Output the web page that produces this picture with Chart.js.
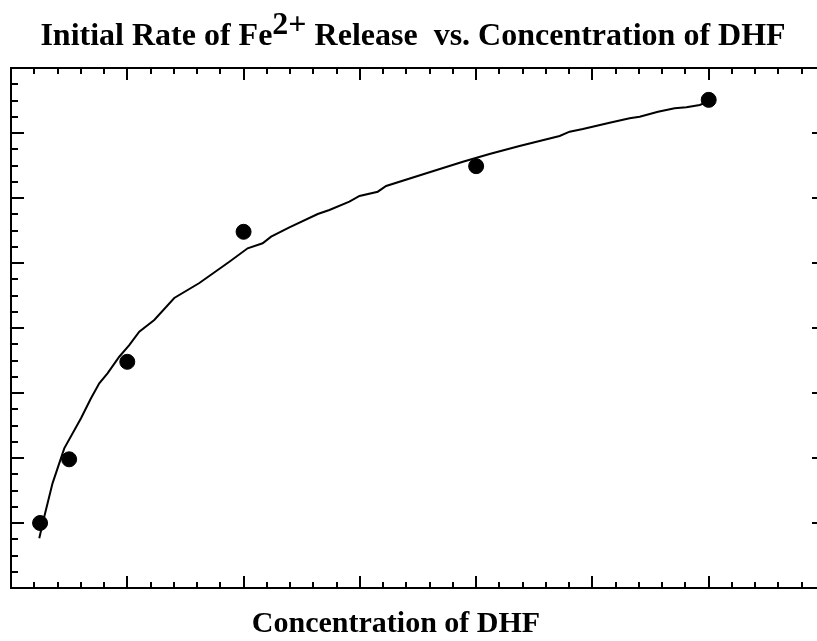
<!DOCTYPE html>
<html>
<head>
<meta charset="utf-8">
<script src="https://cdn.jsdelivr.net/npm/chart.js@4.4.1/dist/chart.umd.min.js"></script>
<style>
  html, body { margin: 0; padding: 0; background: #fff; }
  #wrap { width: 817px; height: 641px; overflow: hidden; position: relative; }
  canvas { display: block; }
</style>
</head>
<body>
<div id="wrap"><canvas id="chart" width="830" height="641"></canvas></div>
<script>
// measured points
const concentration = [0.25, 0.5, 1, 2, 4, 6];
const initialRate = [1.0, 1.98, 3.48, 5.48, 6.49, 7.51];

// fitted curve
const fitX = [0.243, 0.286, 0.357, 0.458, 0.602, 0.688, 0.759, 0.83, 0.931, 1.017, 1.103, 1.232, 1.404, 1.62, 1.878, 2.035, 2.164, 2.237, 2.394, 2.638, 2.738, 2.91, 2.997, 3.154, 3.226, 3.599, 3.886, 4.115, 4.373, 4.718, 4.804, 4.918, 5.148, 5.32, 5.406, 5.564, 5.707, 5.808, 5.923, 5.994];
const fitY = [0.765, 1.097, 1.61, 2.149, 2.611, 2.918, 3.149, 3.303, 3.558, 3.738, 3.943, 4.123, 4.462, 4.692, 5.02, 5.226, 5.303, 5.405, 5.549, 5.754, 5.815, 5.943, 6.031, 6.097, 6.185, 6.395, 6.558, 6.677, 6.8, 6.954, 7.02, 7.062, 7.158, 7.226, 7.251, 7.328, 7.38, 7.395, 7.431, 7.482];

// tick positions (no tick labels on this chart)
const xMajorTicks = [0, 1, 2, 3, 4, 5, 6, 7];
const xMinorStep = 0.2;
const yMajorTicks = [0, 1, 2, 3, 4, 5, 6, 7, 8];
const yMinorStep = 0.25;

const chartTitle = ["Initial Rate of Fe", "2+", " Release  vs. Concentration of DHF"];
const xTitle = "Concentration of DHF";

const serif = "'Liberation Serif', 'Times New Roman', serif";

function minorTicks(majors, step) {
  let out = [];
  for (let i = 0; i < majors.length - 1; i++) {
    let n = Math.round((majors[i + 1] - majors[i]) / step);
    for (let k = 1; k < n; k++) out.push(majors[i] + k * step);
  }
  return out;
}

const framePlugin = {
  id: "frame",
  afterDraw(chart) {
    const ctx = chart.ctx;
    const area = chart.chartArea;
    const xs = chart.scales.x;
    const ys = chart.scales.y;
    ctx.save();
    ctx.strokeStyle = "#000";
    ctx.lineWidth = 2;
    ctx.strokeRect(area.left, area.top, area.right - area.left, area.bottom - area.top);

    ctx.beginPath();
    const tick = (vals, len, isX) => {
      vals.forEach((v) => {
        if (isX) {
          let px = Math.round(xs.getPixelForValue(v));
          ctx.moveTo(px, area.bottom);
          ctx.lineTo(px, area.bottom - len);
          ctx.moveTo(px, area.top);
          ctx.lineTo(px, area.top + len);
        } else {
          let py = Math.round(ys.getPixelForValue(v));
          ctx.moveTo(area.left, py);
          ctx.lineTo(area.left + len, py);
          ctx.moveTo(area.right, py);
          ctx.lineTo(area.right - len, py);
        }
      });
    };
    tick(xMajorTicks, 12, true);
    tick(minorTicks(xMajorTicks, xMinorStep), 6, true);
    tick(yMajorTicks, 13, false);
    tick(minorTicks(yMajorTicks, yMinorStep), 7, false);
    ctx.stroke();

    // titles
    ctx.fillStyle = "#000";
    ctx.textBaseline = "alphabetic";
    ctx.font = "bold 32px " + serif;
    let w0 = ctx.measureText(chartTitle[0]).width;
    let w1 = ctx.measureText(chartTitle[1]).width;
    let w2 = ctx.measureText(chartTitle[2]).width;
    let x = 413 - (w0 + w1 + w2) / 2;
    ctx.textAlign = "left";
    ctx.fillText(chartTitle[0], x, 45);
    ctx.fillText(chartTitle[1], x + w0, 34);
    ctx.fillText(chartTitle[2], x + w0 + w1, 45);

    ctx.font = "bold 30px " + serif;
    ctx.textAlign = "center";
    ctx.fillText(xTitle, 396, 632);
    ctx.restore();
  },
};

new Chart(document.querySelector("#chart"), {
  type: "scatter",
  data: {
    datasets: [
      {
        label: "Initial rate",
        data: concentration.map((c, i) => ({ x: c, y: initialRate[i] })),
        backgroundColor: "#000",
        borderColor: "#000",
        pointRadius: 7.5,
        pointHoverRadius: 7.5,
      },
      {
        label: "Fit",
        data: fitX.map((c, i) => ({ x: c, y: fitY[i] })),
        showLine: true,
        borderColor: "#000",
        borderWidth: 2,
        pointRadius: 0,
        tension: 0,
      },
    ],
  },
  options: {
    responsive: false,
    animation: false,
    events: [],
    layout: { autoPadding: false, padding: { left: 11, right: 5, top: 68, bottom: 53 } },
    plugins: { legend: { display: false }, tooltip: { enabled: false }, title: { display: false } },
    scales: {
      x: { type: "linear", min: 0, max: 7, display: false },
      y: { type: "linear", min: 0, max: 8, display: false },
    },
  },
  plugins: [framePlugin],
});
</script>
</body>
</html>
